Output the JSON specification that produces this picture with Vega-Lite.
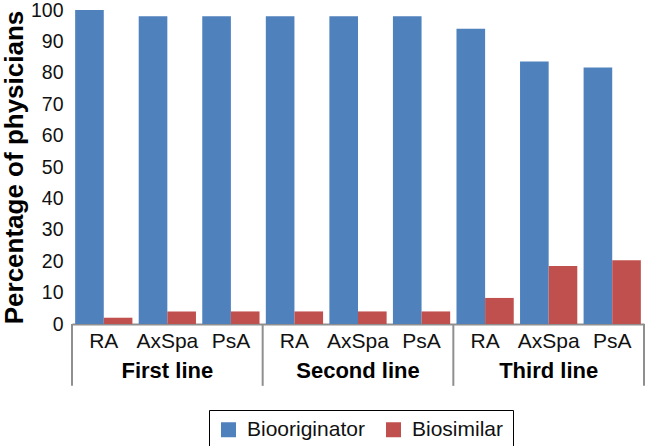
{
  "$schema": "https://vega.github.io/schema/vega-lite/v6.json",
  "width": 572,
  "height": 314,
  "autosize": {"type": "none"},
  "padding": {"left": 72, "top": 10, "right": 2, "bottom": 122},
  "background": "white",
  "config": {"font": "Liberation Sans", "view": {"stroke": null}},
  "resolve": {"axis": {"y": "independent"}},
  "layer": [
    {
      "data": {"values": [
        {"cat": "First line|RA", "series": "Biooriginator", "value": 100},
        {"cat": "First line|RA", "series": "Biosimilar", "value": 2},
        {"cat": "First line|AxSpa", "series": "Biooriginator", "value": 98},
        {"cat": "First line|AxSpa", "series": "Biosimilar", "value": 4},
        {"cat": "First line|PsA", "series": "Biooriginator", "value": 98},
        {"cat": "First line|PsA", "series": "Biosimilar", "value": 4},
        {"cat": "Second line|RA", "series": "Biooriginator", "value": 98},
        {"cat": "Second line|RA", "series": "Biosimilar", "value": 4},
        {"cat": "Second line|AxSpa", "series": "Biooriginator", "value": 98},
        {"cat": "Second line|AxSpa", "series": "Biosimilar", "value": 4},
        {"cat": "Second line|PsA", "series": "Biooriginator", "value": 98},
        {"cat": "Second line|PsA", "series": "Biosimilar", "value": 4},
        {"cat": "Third line|RA", "series": "Biooriginator", "value": 94},
        {"cat": "Third line|RA", "series": "Biosimilar", "value": 8.3},
        {"cat": "Third line|AxSpa", "series": "Biooriginator", "value": 83.6},
        {"cat": "Third line|AxSpa", "series": "Biosimilar", "value": 18.5},
        {"cat": "Third line|PsA", "series": "Biooriginator", "value": 81.7},
        {"cat": "Third line|PsA", "series": "Biosimilar", "value": 20.3}
      ]},
      "mark": {"type": "bar"},
      "encoding": {
        "x": {
          "field": "cat", "type": "nominal",
          "scale": {"domain": ["First line|RA","First line|AxSpa","First line|PsA","Second line|RA","Second line|AxSpa","Second line|PsA","Third line|RA","Third line|AxSpa","Third line|PsA"], "paddingInner": 0, "paddingOuter": 0},
          "axis": {"title": null, "labelAngle": 0, "labelExpr": "slice(datum.label, indexof(datum.label, '|') + 1)", "ticks": false, "domain": true, "domainColor": "#8f8f8f", "domainWidth": 2, "labelFontSize": 21, "labelColor": "#111", "labelPadding": 6, "labelOverlap": false}
        },
        "xOffset": {"field": "series", "type": "nominal", "scale": {"paddingOuter": 0.11, "paddingInner": 0}},
        "y": {
          "field": "value", "type": "quantitative",
          "scale": {"domain": [0, 100], "nice": false},
          "axis": {"title": "Percentage of physicians", "titleFontSize": 26, "titleFontWeight": "bold", "titleColor": "#000", "titlePadding": 3, "values": [0,10,20,30,40,50,60,70,80,90,100], "grid": false, "domain": false, "ticks": false, "labelFontSize": 19.5, "labelColor": "#111", "labelPadding": 9, "labelOverlap": false}
        },
        "color": {
          "field": "series", "type": "nominal",
          "scale": {"domain": ["Biooriginator", "Biosimilar"], "range": ["#4F81BD", "#C0504D"]},
          "legend": {"title": null, "orient": "none", "direction": "horizontal", "legendX": 137, "legendY": 400, "strokeColor": "#000", "padding": 9, "symbolType": "square", "symbolSize": 225, "symbolStrokeWidth": 0, "labelFontSize": 21, "labelColor": "#111", "columnPadding": 18, "labelOffset": 8}
        }
      }
    },
    {
      "data": {"values": [{"cat": "First line|RA"}, {"cat": "Second line|RA"}, {"cat": "Third line|RA"}]},
      "mark": {"type": "rule", "color": "#8f8f8f", "strokeWidth": 2},
      "encoding": {
        "x": {"field": "cat", "type": "nominal", "bandPosition": 0},
        "y": {"datum": 0, "axis": null},
        "y2": {"datum": -19.7}
      }
    },
    {
      "data": {"values": [{"cat": "Third line|PsA"}]},
      "mark": {"type": "rule", "color": "#8f8f8f", "strokeWidth": 2},
      "encoding": {
        "x": {"field": "cat", "type": "nominal", "bandPosition": 1},
        "y": {"datum": 0, "axis": null},
        "y2": {"datum": -19.7}
      }
    },
    {
      "data": {"values": [
        {"cat": "First line|AxSpa", "group": "First line"},
        {"cat": "Second line|AxSpa", "group": "Second line"},
        {"cat": "Third line|AxSpa", "group": "Third line"}
      ]},
      "mark": {"type": "text", "fontSize": 22, "fontWeight": "bold", "color": "#000", "baseline": "middle", "align": "center"},
      "encoding": {
        "x": {"field": "cat", "type": "nominal", "bandPosition": 0.5},
        "y": {"datum": -15, "axis": null},
        "text": {"field": "group"}
      }
    }
  ]
}
